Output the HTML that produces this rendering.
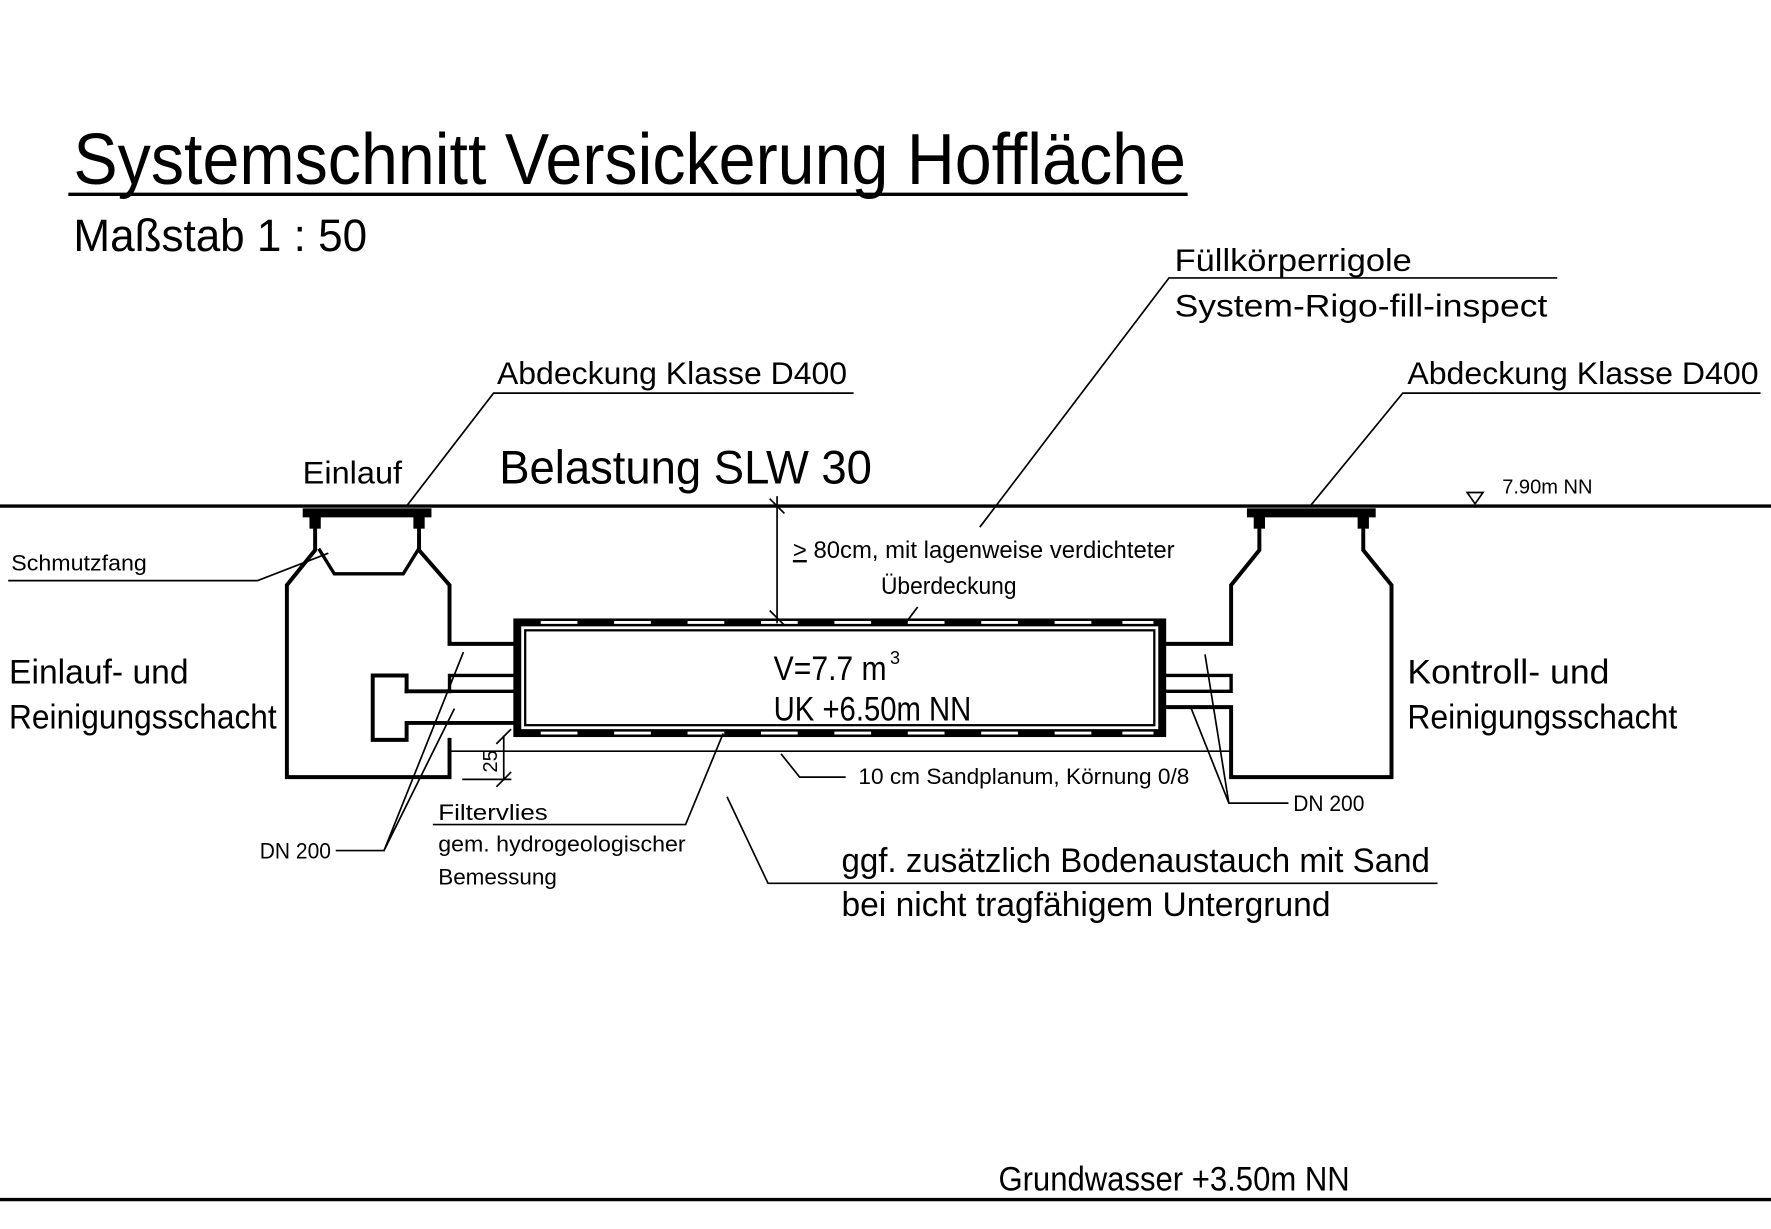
<!DOCTYPE html>
<html><head><meta charset="utf-8"><style>
html,body{margin:0;padding:0;background:#fff;}
svg{display:block;}
text{font-family:"Liberation Sans Narrow","Liberation Sans",sans-serif;fill:#000;}
</style></head><body>
<svg width="1771" height="1229" viewBox="0 0 1568 1088" xmlns="http://www.w3.org/2000/svg">
<g stroke="#000" fill="none" stroke-linecap="square">
<line x1="62" y1="172" x2="1050" y2="172" stroke-width="3"/>
<line x1="0" y1="448" x2="1568" y2="448" stroke-width="3"/>
<line x1="0" y1="1062" x2="1568" y2="1062" stroke-width="3"/>
<path d="M1299 436 L1313 436 L1306 446 Z" stroke-width="1.5"/>

<rect x="268" y="450" width="114" height="8" fill="#000" stroke="none"/>
<rect x="274" y="456" width="10" height="12" fill="#000" stroke="none"/>
<rect x="366" y="456" width="10" height="12" fill="#000" stroke="none"/>
<path d="M279 468 L279 487 L254 518 L254 688 L398 688 L398 655" stroke-width="3.5"/>
<path d="M371 468 L371 487 L398 518 L398 570 L458 570" stroke-width="3.5"/>
<path d="M283 487 L296 508 L357 508 L370 487" stroke-width="3"/>
<path d="M398 598 L458 598 M398 612 L458 612 M398 598 L398 612" stroke-width="3"/>
<path d="M360 612 L360 598 L330 598 L330 655 L360 655 L360 640 L458 640" stroke-width="3.5"/>
<path d="M360 612 L398 612" stroke-width="3.5"/>

<rect x="458" y="551" width="571" height="98" stroke-width="7"/>
<rect x="465" y="558" width="557" height="84" stroke-width="2"/>
<g stroke="#fff" stroke-width="2.5">
<path d="M480 551 H510 M545 551 H575 M610 551 H640 M675 551 H705 M740 551 H770 M805 551 H835 M870 551 H900 M935 551 H965 M995 551 H1020"/>
<path d="M480 649 H510 M545 649 H575 M610 649 H640 M675 649 H705 M740 649 H770 M805 649 H835 M870 649 H900 M935 649 H965 M995 649 H1020"/>
</g>
<line x1="398" y1="665" x2="1090" y2="665" stroke-width="1.5"/>
<line x1="446" y1="652" x2="446" y2="690" stroke-width="1.5"/>
<line x1="410" y1="690" x2="452" y2="690" stroke-width="1.5"/>
<line x1="440" y1="658" x2="452" y2="646" stroke-width="1.5"/>
<line x1="440" y1="696" x2="452" y2="684" stroke-width="1.5"/>

<rect x="1104" y="450" width="114" height="8" fill="#000" stroke="none"/>
<rect x="1110" y="456" width="10" height="12" fill="#000" stroke="none"/>
<rect x="1202" y="456" width="10" height="12" fill="#000" stroke="none"/>
<path d="M1115 468 L1115 487 L1090 518 L1090 570 L1032 570" stroke-width="3.5"/>
<path d="M1207 468 L1207 487 L1232 518 L1232 688 L1090 688 L1090 626 L1032 626" stroke-width="3.5"/>
<path d="M1032 598 L1090 598 L1090 612 L1032 612" stroke-width="3"/>

<line x1="688" y1="440" x2="688" y2="551" stroke-width="1.5"/>
<line x1="682" y1="442" x2="694" y2="454" stroke-width="1.5"/>
<line x1="682" y1="541" x2="694" y2="553" stroke-width="1.5"/>

<g stroke-width="1.5">
<path d="M360 448 L437 348 L755 348"/>
<path d="M1160 448 L1242 348 L1558 348"/>
<path d="M868 466 L1035 246 L1378 246"/>
<path d="M803 550 L812 538"/>
<path d="M8 514 L228 514 L290 490"/>
<path d="M298 753 L340 753 L410 578 M340 753 L402 628"/>
<path d="M384 730 L607 730 L640 650"/>
<path d="M692 668 L708 688 L748 688"/>
<path d="M644 706 L680 782 L1272 782"/>
<path d="M1140 711 L1088 711 L1067 580 M1088 711 L1055 628"/>
</g>
</g>

<g>
<text x="65" y="163" font-size="64" textLength="985" lengthAdjust="spacingAndGlyphs">Systemschnitt Versickerung Hoffläche</text>
<text x="65" y="222" font-size="40" textLength="260" lengthAdjust="spacingAndGlyphs">Maßstab 1 : 50</text>
<text x="1040" y="240" font-size="28" textLength="210" lengthAdjust="spacingAndGlyphs">Füllkörperrigole</text>
<text x="1040" y="280" font-size="28" textLength="330" lengthAdjust="spacingAndGlyphs">System-Rigo-fill-inspect</text>
<text x="440" y="340" font-size="28" textLength="310" lengthAdjust="spacingAndGlyphs">Abdeckung Klasse D400</text>
<text x="1246" y="340" font-size="28" textLength="311" lengthAdjust="spacingAndGlyphs">Abdeckung Klasse D400</text>
<text x="268" y="428" font-size="28" textLength="88" lengthAdjust="spacingAndGlyphs">Einlauf</text>
<text x="442" y="428" font-size="42" textLength="330" lengthAdjust="spacingAndGlyphs">Belastung SLW 30</text>
<text x="1330" y="437" font-size="18" textLength="80" lengthAdjust="spacingAndGlyphs">7.90m NN</text>
<text x="10" y="505" font-size="20" textLength="120" lengthAdjust="spacingAndGlyphs">Schmutzfang</text>
<text x="702" y="494" font-size="21" textLength="338" lengthAdjust="spacingAndGlyphs"><tspan text-decoration="underline">&gt;</tspan> 80cm, mit lagenweise verdichteter</text>
<text x="780" y="526" font-size="21" textLength="120" lengthAdjust="spacingAndGlyphs">Überdeckung</text>
<text x="8" y="605" font-size="30" textLength="159" lengthAdjust="spacingAndGlyphs">Einlauf- und</text>
<text x="8" y="645" font-size="30" textLength="237" lengthAdjust="spacingAndGlyphs">Reinigungsschacht</text>
<text x="1246" y="605" font-size="30" textLength="179" lengthAdjust="spacingAndGlyphs">Kontroll- und</text>
<text x="1246" y="645" font-size="30" textLength="239" lengthAdjust="spacingAndGlyphs">Reinigungsschacht</text>
<text x="685" y="602" font-size="30" textLength="100" lengthAdjust="spacingAndGlyphs">V=7.7 m</text>
<text x="788" y="588" font-size="16">3</text>
<text x="685" y="638" font-size="30" textLength="175" lengthAdjust="spacingAndGlyphs">UK +6.50m NN</text>
<text x="440" y="684" font-size="18" transform="rotate(-90 440 684)">25</text>
<text x="760" y="694" font-size="20" textLength="293" lengthAdjust="spacingAndGlyphs">10 cm Sandplanum, Körnung 0/8</text>
<text x="1145" y="718" font-size="20" textLength="63" lengthAdjust="spacingAndGlyphs">DN 200</text>
<text x="230" y="760" font-size="20" textLength="63" lengthAdjust="spacingAndGlyphs">DN 200</text>
<text x="388" y="726" font-size="20" textLength="97" lengthAdjust="spacingAndGlyphs">Filtervlies</text>
<text x="388" y="754" font-size="20" textLength="219" lengthAdjust="spacingAndGlyphs">gem. hydrogeologischer</text>
<text x="388" y="783" font-size="20" textLength="105" lengthAdjust="spacingAndGlyphs">Bemessung</text>
<text x="745" y="772" font-size="30" textLength="521" lengthAdjust="spacingAndGlyphs">ggf. zusätzlich Bodenaustauch mit Sand</text>
<text x="745" y="811" font-size="30" textLength="433" lengthAdjust="spacingAndGlyphs">bei nicht tragfähigem Untergrund</text>
<text x="884" y="1054" font-size="30" textLength="311" lengthAdjust="spacingAndGlyphs">Grundwasser +3.50m NN</text>
</g>
</svg>
</body></html>
